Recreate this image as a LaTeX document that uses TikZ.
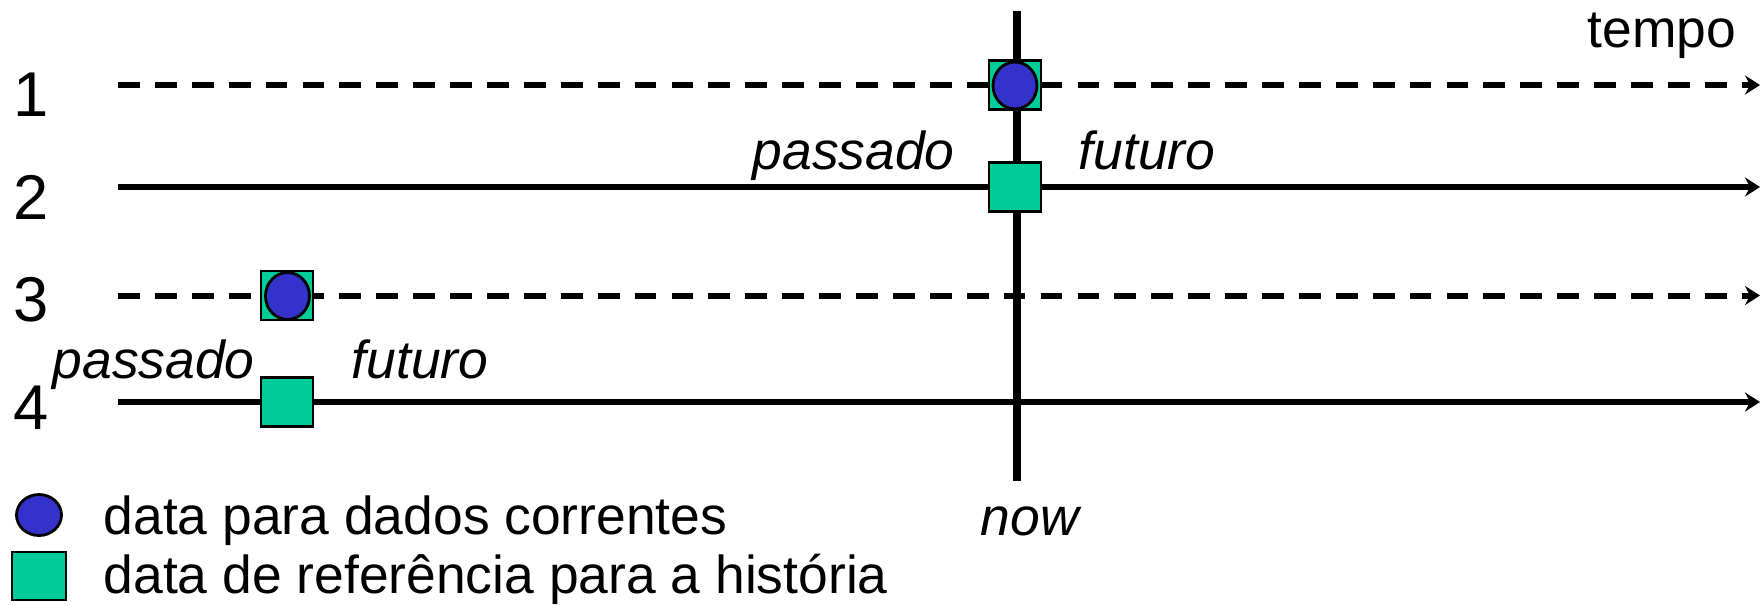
\documentclass[tikz,border=0pt]{standalone}
\usepackage{fontspec}
\setmainfont{Liberation Sans}
\usetikzlibrary{arrows.meta,shapes.geometric}

\definecolor{refgreen}{RGB}{0,204,153}
\definecolor{curblue}{RGB}{51,51,204}

\tikzset{
    timeline/.style={line width=1.7pt,-{Stealth[length=1.5mm,width=1.9mm,inset=0.5mm]}},
    timedash/.style={timeline,dash pattern=on 6.2pt off 4.3pt},
    histsq/.style={draw,line width=0.8pt,fill=refgreen,rectangle,inner sep=0pt,minimum width=0.52cm,minimum height=0.49cm},
    curdot/.style={draw,line width=0.8pt,fill=curblue,ellipse,inner sep=0pt,minimum width=0.44cm,minimum height=0.47cm},
    lbl/.style={inner sep=0pt,font=\fontsize{15.2pt}{18pt}\selectfont},
    num/.style={inner sep=0pt,anchor=base,font=\fontsize{18pt}{21pt}\selectfont}
}

\begin{document}
\begin{tikzpicture}
    \useasboundingbox (0,0) rectangle (17.62,6.05);

    % the four time axes
    \coordinate (s1) at (1.18,5.20);  \coordinate (e1) at (17.60,5.20);
    \coordinate (s2) at (1.18,4.18);  \coordinate (e2) at (17.60,4.18);
    \coordinate (s3) at (1.18,3.095); \coordinate (e3) at (17.60,3.095);
    \coordinate (s4) at (1.18,2.03);  \coordinate (e4) at (17.60,2.03);
    \draw [timedash] (s1)--(e1);
    \draw [timeline] (s2)--(e2);
    \draw [timedash] (s3)--(e3);
    \draw [timeline] (s4)--(e4);

    % now
    \coordinate (nowtop) at (10.17,5.94);
    \coordinate (nowbot) at (10.17,1.24);
    \draw [line width=2.1pt] (nowtop)--(nowbot);

    \node [num] (n1) at (0.31,4.89) {1};
    \node [num] (n2) at (0.31,3.86) {2};
    \node [num] (n3) at (0.31,2.84) {3};
    \node [num] (n4) at (0.31,1.76) {4};

    % markers
    \node [histsq] (sq1) at (10.15,5.20) {};
    \node [curdot] (ci1) at (10.15,5.195) {};
    \node [histsq] (sq2) at (10.15,4.18) {};
    \node [histsq] (sq3) at (2.87,3.095) {};
    \node [curdot] (ci3) at (2.875,3.09) {};
    \node [histsq] (sq4) at (2.87,2.03) {};

    \node [lbl,anchor=base east] (tempo) at (17.37,5.58) {tempo};
    \node [lbl,anchor=base west] (pas2) at (7.52,4.36) {\itshape passado};
    \node [lbl,anchor=base west] (fut2) at (10.78,4.36) {\itshape futuro};
    \node [lbl,anchor=base west] (pas4) at (0.52,2.27) {\itshape passado};
    \node [lbl,anchor=base west] (fut4) at (3.51,2.27) {\itshape futuro};
    \node [lbl,anchor=base west] (now) at (9.80,0.70) {\itshape now};

    % legend
    \node [curdot,minimum width=0.45cm,minimum height=0.41cm] (legci) at (0.39,0.90) {};
    \node [histsq,minimum width=0.54cm,minimum height=0.48cm] (legsq) at (0.39,0.29) {};
    \node [lbl,anchor=base west] (legtxt1) at (1.03,0.71) {data para dados correntes};
    \node [lbl,anchor=base west] (legtxt2) at (1.03,0.12) {data de referência para a história};
\end{tikzpicture}
\end{document}
